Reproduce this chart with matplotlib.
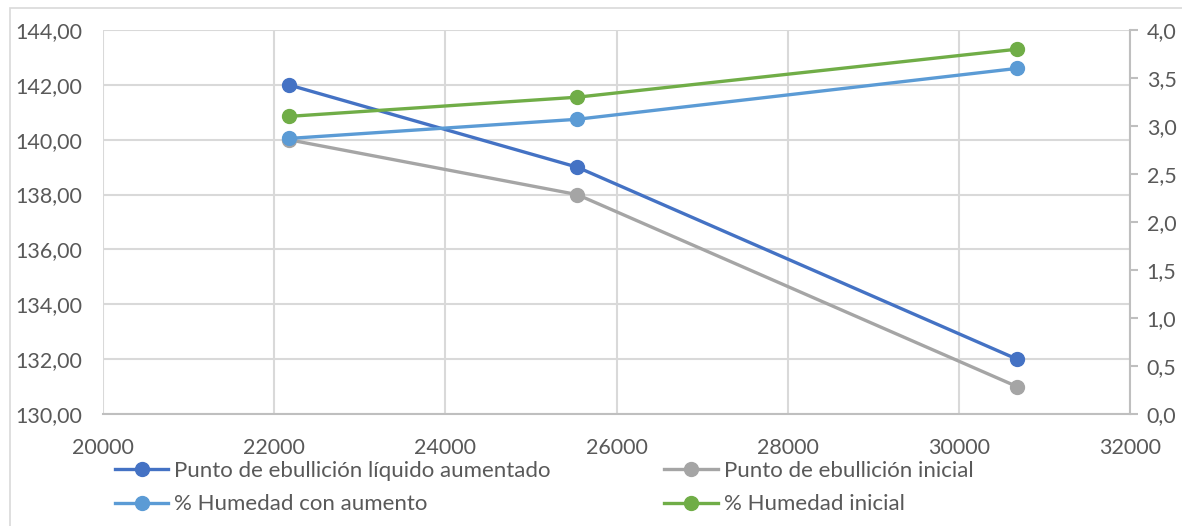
import matplotlib
matplotlib.use("Agg")
import matplotlib.pyplot as plt
from matplotlib.ticker import FuncFormatter, MultipleLocator
from matplotlib.patches import Rectangle

plt.rcParams['font.family'] = ['Lato', 'DejaVu Sans']

# Data
x_vals = [22170, 25540, 30680]
pe_aumentado = [142.0, 139.0, 132.0]
pe_inicial = [140.0, 138.0, 131.0]
hum_aumento = [2.87, 3.07, 3.60]
hum_inicial = [3.10, 3.30, 3.80]

labels = ["Punto de ebullición líquido aumentado",
          "Punto de ebullición inicial",
          "% Humedad con aumento",
          "% Humedad inicial"]
colors = ["#4472C4", "#A5A5A5", "#5B9BD5", "#70AD47"]

W, H = 1182, 526
fig = plt.figure(figsize=(W / 100, H / 100), dpi=100)
ax = fig.add_axes([103 / W, 1 - 414 / H, (1130 - 103) / W, (414 - 30) / H])
ax2 = ax.twinx()

text_col = "#595959"
grid_col = "#D9D9D9"
fs_tick = 15.5
fs_leg = 16

lw = 2.4
ms = 10
l1, = ax.plot(x_vals, pe_aumentado, color=colors[0], lw=lw, marker='o', ms=ms, label=labels[0], zorder=3)
l2, = ax.plot(x_vals, pe_inicial, color=colors[1], lw=lw, marker='o', ms=ms, label=labels[1], zorder=3)
l3, = ax2.plot(x_vals, hum_aumento, color=colors[2], lw=lw, marker='o', ms=ms, label=labels[2], zorder=3)
l4, = ax2.plot(x_vals, hum_inicial, color=colors[3], lw=lw, marker='o', ms=ms, label=labels[3], zorder=3)

ax.set_xlim(20000, 32000)
ax.set_ylim(130, 144)
ax2.set_ylim(0, 4)
ax.xaxis.set_major_locator(MultipleLocator(2000))
ax.yaxis.set_major_locator(MultipleLocator(2))
ax2.yaxis.set_major_locator(MultipleLocator(0.5))

ax.yaxis.set_major_formatter(FuncFormatter(lambda v, p: f"{v:.2f}".replace('.', ',')))
ax2.yaxis.set_major_formatter(FuncFormatter(lambda v, p: f"{v:.1f}".replace('.', ',')))
ax.xaxis.set_major_formatter(FuncFormatter(lambda v, p: f"{int(v)}"))

ax.grid(True, color=grid_col, lw=1.5, zorder=0)
ax.set_axisbelow(True)

for s in ['top', 'left', 'right']:
    ax.spines[s].set_visible(False)
for s in ['top', 'left', 'bottom']:
    ax2.spines[s].set_visible(False)
ax.spines['bottom'].set_color("#BFBFBF")
ax.spines['bottom'].set_linewidth(1.5)
ax2.spines['right'].set_color("#BFBFBF")
ax2.spines['right'].set_linewidth(1.5)

ax.tick_params(axis='both', length=0, labelsize=fs_tick, labelcolor=text_col)
ax.tick_params(axis='y', pad=15)
ax.tick_params(axis='x', pad=17)
ax2.tick_params(axis='y', length=6, width=1.5, color="#BFBFBF", labelsize=fs_tick,
                labelcolor=text_col, pad=6)

# Outer chart border
fig.patches.append(Rectangle((10 / W, -0.1), 1.2, 1 - 8 / H + 0.1, transform=fig.transFigure,
                             fill=False, ec="#D9D9D9", lw=1.2))

leg = fig.legend([l1, l3, l2, l4], [labels[0], labels[2], labels[1], labels[3]],
                 ncol=2, loc='upper left', bbox_to_anchor=(115 / W, 1 - 461 / H),
                 frameon=False, fontsize=fs_leg, labelcolor=text_col,
                 handlelength=2.4, handletextpad=0.27, columnspacing=5.1,
                 labelspacing=0.6, borderpad=0, borderaxespad=0)

fig.savefig("out.png", dpi=100)
